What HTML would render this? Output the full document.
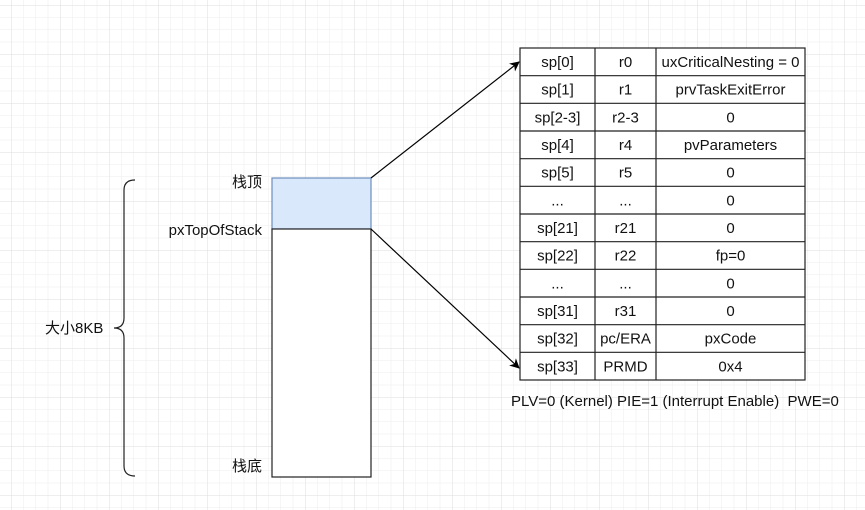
<!DOCTYPE html>
<html><head><meta charset="utf-8"><style>
html,body{margin:0;padding:0;width:865px;height:510px;overflow:hidden;background:#fff;}
svg{display:block;}
text{font-family:"Liberation Sans","Noto Sans CJK SC",sans-serif;font-size:15px;fill:#111;}
</style></head><body>
<svg width="865" height="510" viewBox="0 0 865 510" xmlns="http://www.w3.org/2000/svg">
<defs>
<pattern id="minor" x="11" y="5" width="12.25" height="12.25" patternUnits="userSpaceOnUse">
<path d="M0 0V12.25M0 0H12.25" stroke="#ededed" stroke-width="1" fill="none"/>
</pattern>
<pattern id="major" x="11" y="5" width="49" height="49" patternUnits="userSpaceOnUse">
<path d="M0 0V49M0 0H49" stroke="#dedede" stroke-width="1" fill="none"/>
</pattern>
<marker id="ar" markerWidth="10" markerHeight="10" refX="9" refY="5" orient="auto" markerUnits="userSpaceOnUse">
<path d="M0 0L10 5L0 10L3 5Z" fill="#000"/>
</marker>
</defs>
<rect width="865" height="510" fill="url(#minor)"/>
<rect width="865" height="510" fill="url(#major)"/>

<rect x="272" y="178" width="99" height="51" fill="#dae8fc" stroke="#6c8ebf" stroke-width="1.2"/>
<rect x="272" y="229" width="99" height="248" fill="#fff" stroke="#222" stroke-width="1.2"/>
<text x="262" y="187" text-anchor="end">栈顶</text>
<text x="262" y="235" text-anchor="end">pxTopOfStack</text>
<text x="262" y="471" text-anchor="end">栈底</text>
<text x="45" y="333">大小8KB</text>
<path d="M135 180 Q124 180 124 190 L124 318 Q124 328 114 328 Q124 328 124 338 L124 466 Q124 476 135 476" fill="none" stroke="#222" stroke-width="1.2"/>

<line x1="371" y1="178" x2="519" y2="62" stroke="#000" stroke-width="1.2" marker-end="url(#ar)"/>
<line x1="371" y1="229" x2="519" y2="368" stroke="#000" stroke-width="1.2" marker-end="url(#ar)"/>

<g stroke="#222" stroke-width="1.2" fill="none">
<rect x="520" y="48" width="285" height="332" fill="#fff"/>
<line x1="595" y1="48" x2="595" y2="380"/>
<line x1="656" y1="48" x2="656" y2="380"/>
<path d="M520 75.7H805M520 103.3H805M520 131H805M520 158.7H805M520 186.3H805M520 214H805M520 241.7H805M520 269.3H805M520 297H805M520 324.7H805M520 352.3H805"/>
</g>
<g text-anchor="middle">
<text x="557.5" y="67">sp[0]</text><text x="625.5" y="67">r0</text><text x="730.5" y="67">uxCriticalNesting = 0</text>
<text x="557.5" y="94.7">sp[1]</text><text x="625.5" y="94.7">r1</text><text x="730.5" y="94.7">prvTaskExitError</text>
<text x="557.5" y="122.3">sp[2-3]</text><text x="625.5" y="122.3">r2-3</text><text x="730.5" y="122.3">0</text>
<text x="557.5" y="150">sp[4]</text><text x="625.5" y="150">r4</text><text x="730.5" y="150">pvParameters</text>
<text x="557.5" y="177.7">sp[5]</text><text x="625.5" y="177.7">r5</text><text x="730.5" y="177.7">0</text>
<text x="557.5" y="205.3">...</text><text x="625.5" y="205.3">...</text><text x="730.5" y="205.3">0</text>
<text x="557.5" y="233">sp[21]</text><text x="625.5" y="233">r21</text><text x="730.5" y="233">0</text>
<text x="557.5" y="260.7">sp[22]</text><text x="625.5" y="260.7">r22</text><text x="730.5" y="260.7">fp=0</text>
<text x="557.5" y="288.3">...</text><text x="625.5" y="288.3">...</text><text x="730.5" y="288.3">0</text>
<text x="557.5" y="316">sp[31]</text><text x="625.5" y="316">r31</text><text x="730.5" y="316">0</text>
<text x="557.5" y="343.7">sp[32]</text><text x="625.5" y="343.7">pc/ERA</text><text x="730.5" y="343.7">pxCode</text>
<text x="557.5" y="371.3">sp[33]</text><text x="625.5" y="371.3">PRMD</text><text x="730.5" y="371.3">0x4</text>
</g>
<text x="511" y="406" xml:space="preserve">PLV=0 (Kernel) PIE=1 (Interrupt Enable)  PWE=0</text>
</svg>
</body></html>
